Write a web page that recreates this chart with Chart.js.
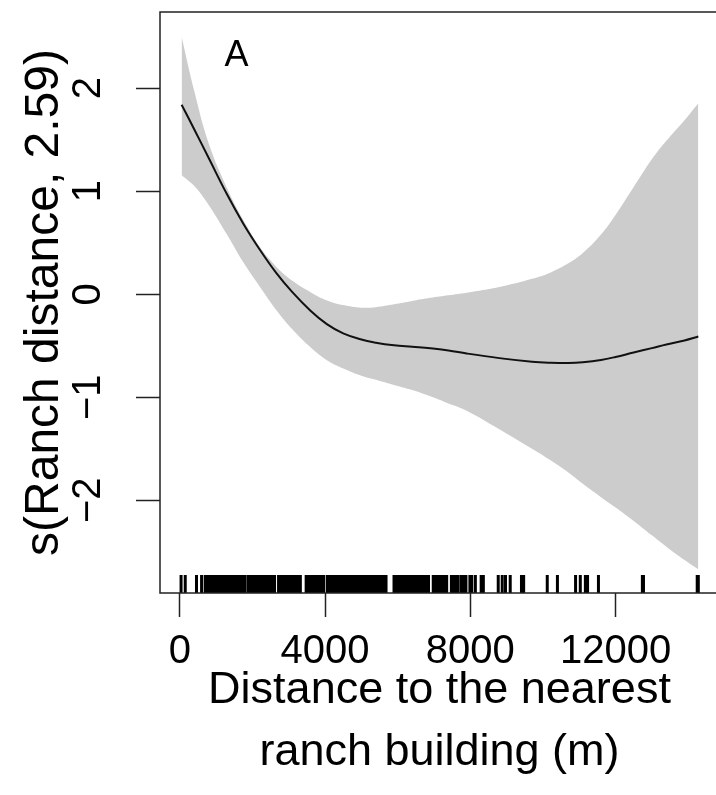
<!DOCTYPE html>
<html>
<head>
<meta charset="utf-8">
<title>s(Ranch distance)</title>
<script src="https://cdn.jsdelivr.net/npm/chart.js@4.4.1/dist/chart.umd.min.js"></script>
<style>
  html, body { margin: 0; padding: 0; background: #fff; overflow: hidden; }
  canvas { display: block; }
</style>
</head>
<body>
<canvas id="smoothChart" width="722" height="795"></canvas>
<script>
// distances (m) where the smooth term was evaluated
const distance = [50, 400, 800, 1300, 1750, 2200, 2650, 3100, 3600, 4050,
    4500, 5000, 5400, 5900, 6400, 6900, 7400, 7900, 8800, 9700,
    10200, 10700, 11100, 11600, 12000, 12500, 13000, 13400, 13900, 14280];

// fitted smooth and its confidence band
const fitted = [1.84, 1.60, 1.32, 0.97, 0.685, 0.435, 0.21, 0.02, -0.16, -0.29,
    -0.38, -0.44, -0.47, -0.495, -0.51, -0.525, -0.545, -0.575, -0.62, -0.655,
    -0.665, -0.668, -0.66, -0.638, -0.609, -0.565, -0.523, -0.488, -0.448, -0.41];

const upperBand = [2.50, 1.97, 1.46, 1.03, 0.72, 0.46, 0.27, 0.13, 0.02, -0.06,
    -0.105, -0.13, -0.125, -0.097, -0.065, -0.035, -0.01, 0.015, 0.07, 0.15,
    0.21, 0.30, 0.40, 0.58, 0.77, 1.04, 1.31, 1.49, 1.69, 1.855];

const lowerBand = [1.155, 1.05, 0.865, 0.58, 0.31, 0.075, -0.15, -0.34, -0.515, -0.64,
    -0.72, -0.79, -0.83, -0.88, -0.93, -0.99, -1.06, -1.13, -1.31, -1.50,
    -1.61, -1.73, -1.84, -1.97, -2.07, -2.20, -2.34, -2.45, -2.58, -2.67];

// observed distances, shown as a rug along the x axis
const rugDistances = [35, 150, 460, 600, 700,
    770, 830, 890, 950, 1010, 1070, 1130, 1200, 1260, 1320,
    1380, 1440, 1500, 1560, 1620, 1680, 1740, 1800, 1890, 1950,
    2010, 2070, 2130, 2190, 2250, 2310, 2370, 2430, 2490, 2550,
    2610, 2720, 2780, 2840, 2900, 2960, 3020, 3080, 3140, 3200,
    3260, 3320, 3480, 3540, 3600, 3660, 3720, 3780, 3840, 3900,
    3960, 4060, 4140, 4190, 4250, 4330, 4400, 4470, 4540, 4610,
    4690, 4760, 4830, 4880, 4960, 5030, 5110, 5170, 5230, 5300,
    5360, 5430, 5500, 5560, 5620, 5680, 5900, 5950, 6000, 6060,
    6110, 6170, 6230, 6300, 6350, 6410, 6480, 6530, 6590, 6660,
    6720, 6780, 6850, 6980, 7040, 7100, 7160, 7230, 7290, 7350,
    7480, 7540, 7600, 7660, 7750, 7830, 7880, 7990, 8040, 8140,
    8300, 8360, 8770, 8880, 8970, 9100, 9410, 9470, 10120, 10400,
    10900, 11030, 11170, 11230, 11530, 12740, 12770, 14250, 14280];

const xTicks = [0, 4000, 8000, 12000];
const yTicks = [-2, -1, 0, 1, 2];

const fontFamily = '"Liberation Sans", Arial, sans-serif';
Chart.defaults.font.family = fontFamily;
Chart.defaults.color = '#000';

function points(ys) {
    return distance.map((d, i) => ({ x: d, y: ys[i] }));
}

function minusSign(v) {
    return v < 0 ? '\u2212' + Math.abs(v) : String(v);
}

// box, rug, rotated y labels and the panel letter
const panelExtras = {
    id: 'panelExtras',
    afterDatasetsDraw(chart, args, opts) {
        const { ctx, chartArea, scales } = chart;
        ctx.save();

        ctx.strokeStyle = '#000';
        ctx.lineWidth = opts.rugWidth;
        ctx.beginPath();
        rugDistances.forEach(d => {
            const x = scales.x.getPixelForValue(d);
            ctx.moveTo(x, chartArea.bottom);
            ctx.lineTo(x, chartArea.bottom - opts.rugLength);
        });
        ctx.stroke();

        ctx.strokeStyle = '#222';
        ctx.lineWidth = 1.5;
        ctx.strokeRect(chartArea.left, chartArea.top,
            chartArea.right - chartArea.left, chartArea.bottom - chartArea.top);

        ctx.fillStyle = '#000';
        ctx.font = '40px ' + fontFamily;
        ctx.textAlign = 'center';
        ctx.textBaseline = 'middle';
        yTicks.forEach(v => {
            ctx.save();
            ctx.translate(chartArea.left - opts.yLabelOffset, scales.y.getPixelForValue(v));
            ctx.rotate(-Math.PI / 2);
            ctx.fillText(minusSign(v), 0, 0);
            ctx.restore();
        });

        ctx.font = '36px ' + fontFamily;
        ctx.fillText(opts.letter.text,
            scales.x.getPixelForValue(opts.letter.x),
            scales.y.getPixelForValue(opts.letter.y));

        ctx.restore();
    }
};

const tickGrid = {
    drawOnChartArea: false,
    drawTicks: true,
    tickLength: 24,
    tickColor: '#222',
    tickWidth: 1.5
};

new Chart(document.getElementById('smoothChart'), {
    type: 'line',
    data: {
        datasets: [
            {
                label: 'fit',
                data: points(fitted),
                borderColor: '#111',
                borderWidth: 2,
                pointRadius: 0,
                fill: false,
                tension: 0.4,
                order: 0
            },
            {
                label: 'upper',
                data: points(upperBand),
                borderColor: 'rgba(0,0,0,0)',
                backgroundColor: '#cccccc',
                pointRadius: 0,
                fill: '+1',
                tension: 0.4,
                order: 1
            },
            {
                label: 'lower',
                data: points(lowerBand),
                borderColor: 'rgba(0,0,0,0)',
                pointRadius: 0,
                fill: false,
                tension: 0.4,
                order: 2
            }
        ]
    },
    options: {
        responsive: false,
        animation: false,
        devicePixelRatio: 1,
        layout: { padding: { top: 12, right: 3, left: 0, bottom: 0 } },
        plugins: {
            legend: { display: false },
            tooltip: { enabled: false },
            panelExtras: {
                rugLength: 18,
                rugWidth: 3,
                yLabelOffset: 71,
                letter: { text: 'A', x: 1560, y: 2.31 }
            }
        },
        scales: {
            x: {
                type: 'linear',
                min: -545,
                max: 14850,
                afterBuildTicks: s => { s.ticks = xTicks.map(v => ({ value: v })); },
                afterFit: s => { s.height = 202; },
                grid: tickGrid,
                border: { display: false },
                ticks: {
                    font: { size: 40 },
                    padding: 11,
                    maxRotation: 0,
                    autoSkip: false,
                    callback: v => String(v)
                },
                title: {
                    display: true,
                    text: ['Distance to the nearest', 'ranch building (m)'],
                    font: { size: 45, lineHeight: 1.38 },
                    padding: { top: 0, bottom: 11 }
                }
            },
            y: {
                type: 'linear',
                min: -2.90,
                max: 2.74,
                afterBuildTicks: s => { s.ticks = yTicks.map(v => ({ value: v })); },
                afterFit: s => { s.width = 160; },
                grid: tickGrid,
                border: { display: false },
                ticks: { display: false },
                title: {
                    display: true,
                    text: 's(Ranch distance, 2.59)',
                    font: { size: 48 },
                    padding: { top: 16, bottom: 0 }
                }
            }
        }
    },
    plugins: [panelExtras]
});
</script>
</body>
</html>
